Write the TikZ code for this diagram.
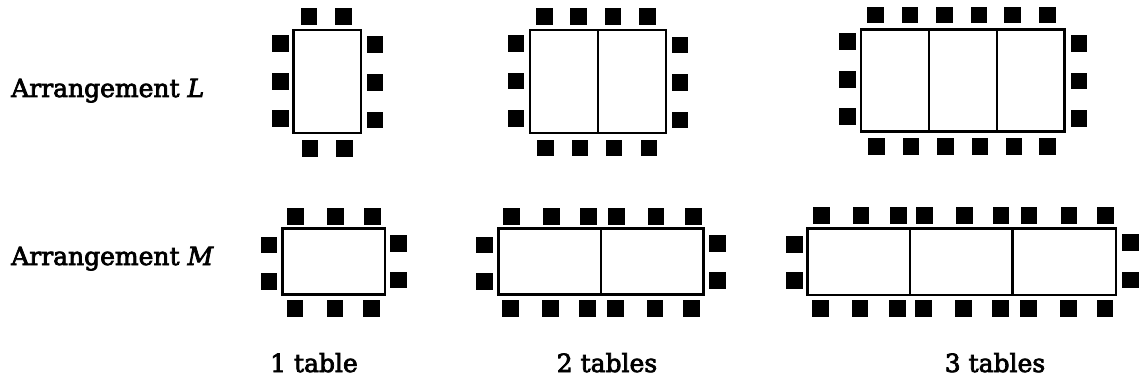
\documentclass[tikz,border=0pt]{standalone}
\usepackage{fontspec}
\setmainfont{DejaVu Serif}[FakeBold=3]
\begin{document}
\begin{tikzpicture}[x=1pt,y=-1pt,
  tablebox/.style={draw=black,line width=2.4pt},
  divider/.style={draw=black,line width=2.4pt},
  chair/.style={fill=black},
  lbl/.style={inner sep=0pt,font=\fontsize{25}{28}\selectfont}]
\useasboundingbox (0,0) rectangle (1141,385);
\def\h{8.25}
% ---- Arrangement L ----
\draw[tablebox] (293.3,30) rectangle (361,133.3);
\draw[tablebox] (530,30) rectangle (665.7,133);
\draw[divider] (597.7,30) -- (597.7,133);
\draw[tablebox] (861,29.5) rectangle (1064.3,131.7);
\draw[divider] (929,29.5) -- (929,131.7);
\draw[divider] (996.7,29.5) -- (996.7,131.7);
\foreach \x/\y in {309/16.5,343.5/16.5,310/148.5,344.5/148.5,
  280.5/43.5,280.5/81.5,280.5/118.5,375/44.5,375/82.5,375/120,
  544.5/16.7,578.5/16.7,613/16.7,647.5/16.7,
  545.5/148,580/148,614/148,649/148,
  516/43.5,516/81,516/118.7,680/45,680/82.5,680/120,
  875.7/15,910/15,944.3/15,979/15,1012.7/15,1047.3/15,
  876.7/146.7,911/146.7,945.7/146.7,980/146.7,1014/146.7,1047.7/146.7,
  847.7/41.7,847.7/79.3,847.7/116.7,1079/43.3,1079/81,1079/118.3}
  \fill[chair] (\x-\h,\y-\h) rectangle (\x+\h,\y+\h);
% ---- Arrangement M ----
\draw[tablebox] (282.3,228.3) rectangle (385,294.3);
\draw[tablebox] (498.3,228.3) rectangle (703.3,294.3);
\draw[divider] (601,228.3) -- (601,294.3);
\draw[tablebox] (807.3,228.3) rectangle (1116,295);
\draw[divider] (910,228.3) -- (910,295);
\draw[divider] (1012.3,228.3) -- (1012.3,295);
\foreach \x/\y in {295.7/216.7,335.7/216.7,372.7/216.7,
  295/308.5,335/308.5,371.7/308.5,
  269/245,269/281.7,398.3/243.3,398.3/280,
  511.7/216.7,551.7/216.7,588.3/216.7,616.7/216.7,656/216.7,693.3/216.7,
  510.7/308.5,550.7/308.5,587.3/308.5,615.7/308.5,655/308.5,691.7/308.5,
  484.7/245,484.7/281.7,717.7/243.3,717.7/280.3,
  821.7/215.7,861/215.7,898.3/215.7,924.3/215.7,964.3/215.7,1001/215.7,1029/215.7,1069/215.7,1105.7/215.7,
  820.7/308.5,860/308.5,897.3/308.5,923.3/308.5,963.3/308.5,1000.7/308.5,1028.3/308.5,1068.3/308.5,1105/308.5,
  794.3/244.3,794.3/280.3,1130.7/242.7,1130.7/280}
  \fill[chair] (\x-\h,\y-\h) rectangle (\x+\h,\y+\h);
% ---- labels ----
\node[lbl,anchor=base west] (labL) at (11,97) {Arrangement \textit{L}};
\node[lbl,anchor=base west] (labM) at (11,265) {Arrangement \textit{M}};
\node[lbl,anchor=base] (t1) at (314,372) {1 table};
\node[lbl,anchor=base] (t2) at (607,372) {2 tables};
\node[lbl,anchor=base] (t3) at (995,372) {3 tables};
\end{tikzpicture}
\end{document}
